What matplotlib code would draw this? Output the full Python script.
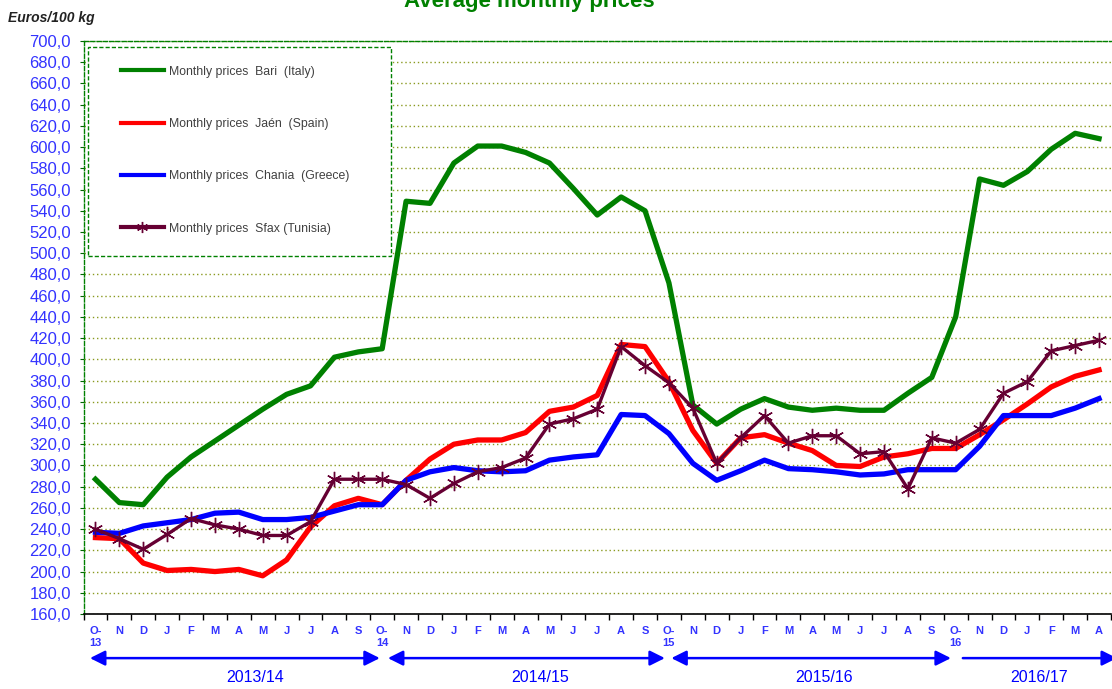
import numpy as np
import matplotlib.pyplot as plt
from matplotlib.patches import Rectangle
from matplotlib.ticker import FuncFormatter, MultipleLocator, FixedLocator

plt.rcParams['font.family'] = ['Liberation Sans', 'DejaVu Sans']

months = ['O-\n13', 'N', 'D', 'J', 'F', 'M', 'A', 'M', 'J', 'J', 'A', 'S',
          'O-\n14', 'N', 'D', 'J', 'F', 'M', 'A', 'M', 'J', 'J', 'A', 'S',
          'O-\n15', 'N', 'D', 'J', 'F', 'M', 'A', 'M', 'J', 'J', 'A', 'S',
          'O-\n16', 'N', 'D', 'J', 'F', 'M', 'A']

bari = [287, 265, 263, 289, 308, 323, 338, 353, 367, 375, 402, 407,
        410, 549, 547, 585, 601, 601, 595, 585, 561, 536, 553, 540,
        472, 357, 339, 353, 363, 355, 352, 354, 352, 352, 368, 383,
        440, 570, 564, 577, 598, 613, 608]
jaen = [232, 231, 208, 201, 202, 200, 202, 196, 211, 242, 262, 269,
        263, 286, 306, 320, 324, 324, 331, 351, 355, 366, 414, 412,
        379, 333, 302, 326, 329, 321, 314, 300, 299, 308, 311, 316,
        316, 329, 343, 358, 374, 384, 390]
chania = [237, 236, 243, 246, 249, 255, 256, 249, 249, 251, 257, 263,
          263, 286, 294, 298, 295, 294, 295, 305, 308, 310, 348, 347,
          330, 302, 286, 295, 305, 297, 296, 294, 291, 292, 296, 296,
          296, 318, 347, 347, 347, 354, 363]
sfax = [240, 231, 221, 235, 250, 244, 240, 234, 234, 247, 287, 287,
        287, 282, 269, 283, 294, 298, 307, 339, 344, 353, 412, 394,
        378, 354, 302, 326, 347, 321, 328, 328, 311, 313, 278, 326,
        321, 334, 368, 379, 408, 413, 418]

seasons = ['2013/14', '2014/15', '2015/16', '2016/17']
season_label_x = [6.7, 18.6, 30.5, 39.5]
season_arrows = [(-0.23, 11.9, '<|-|>'), (12.24, 23.83, '<|-|>'),
                 (24.1, 35.8, '<|-|>'), (36.3, 42.75, '-|>')]

x = np.arange(len(months))

fig = plt.figure(figsize=(11.12, 6.89), dpi=100)
ax = fig.add_axes([83.5 / 1112, 75 / 689, 1027.5 / 1112, 573 / 689])

ax.plot(x, bari, color='#008000', lw=3.8, label='Monthly prices  Bari  (Italy)', zorder=3)
ax.plot(x, jaen, color='#ff0000', lw=3.8, label='Monthly prices  Jaén  (Spain)', zorder=3)
ax.plot(x, chania, color='#0000ff', lw=3.8, label='Monthly prices  Chania  (Greece)', zorder=3)
ax.plot(x, sfax, color='#660033', lw=2.4, marker=(6, 2, 0), ms=11, mew=1.0,
        label='Monthly prices  Sfax (Tunisia)', zorder=4)

ax.set_xlim(-0.5, 42.5)
ax.set_ylim(160, 700)

ax.yaxis.set_major_locator(MultipleLocator(20))
ax.yaxis.set_major_formatter(FuncFormatter(lambda v, p: f'{v:.1f}'.replace('.', ',')))
ax.tick_params(axis='y', colors='#006600', length=3, labelcolor='#3333ff', labelsize=12, pad=6)
ax.grid(axis='y', color='#8a9a20', linestyle=(0, (1, 2)), lw=1.0)

ax.xaxis.set_major_locator(FixedLocator(np.arange(-0.5, 43, 1)))
ax.xaxis.set_minor_locator(FixedLocator(x))
ax.set_xticklabels([], minor=False)
ax.set_xticklabels(months, minor=True, va='top', ha='center', linespacing=1.2)
ax.tick_params(axis='x', which='major', length=4, color='black', width=1)
ax.tick_params(axis='x', which='minor', length=0, pad=9, labelsize=8,
               labelcolor='#3333ff')
for t in ax.get_xticklabels(minor=True):
    t.set_fontweight('bold')

for side in ['left', 'top']:
    ax.spines[side].set_color('#008000')
    ax.spines[side].set_linestyle((0, (3, 1.5)))
    ax.spines[side].set_linewidth(1)
ax.spines['right'].set_visible(False)
ax.spines['bottom'].set_color('black')
ax.spines['bottom'].set_linewidth(1.2)

for (a, b, style) in season_arrows:
    ax.annotate('', xy=(b, -0.077), xytext=(a, -0.077),
                xycoords=('data', 'axes fraction'), textcoords=('data', 'axes fraction'),
                arrowprops=dict(arrowstyle=style + ',head_length=0.9,head_width=0.45',
                                color='#0000ff', lw=1.8, shrinkA=0, shrinkB=0),
                annotation_clip=False)
for lab, lx in zip(seasons, season_label_x):
    ax.text(lx, -0.11, lab, transform=ax.get_xaxis_transform(), ha='center', va='center',
            fontsize=11.5, color='#0000ff', clip_on=False)

# legend box drawn separately so the inner spacing can match
ax.add_patch(Rectangle((0.0044, 0.6248), 0.295, 0.3647, transform=ax.transAxes,
                       facecolor='white', edgecolor='#008000', lw=1,
                       linestyle=(0, (3, 1.5)), zorder=5))
leg = ax.legend(loc='upper left', bbox_to_anchor=(0.0365, 0.957),
                fontsize=8.8, labelspacing=3.3, handlelength=3.5, handletextpad=0.4,
                borderpad=0, borderaxespad=0, frameon=False,
                numpoints=1, labelcolor='#404040')
leg.set_zorder(6)
for h in leg.legend_handles:
    h.set_linewidth(3.0)
    h.set_markersize(8)

fig.text(529 / 1112, 1 - 7 / 689, 'Average monthly prices', ha='center', va='baseline',
         fontsize=16, fontweight='bold', color='#008000')
fig.text(8 / 1112, 1 - 18 / 689, 'Euros/100 kg', ha='left', va='center',
         fontsize=10, fontweight='bold', fontstyle='italic', color='#222222')

fig.savefig('out.png', dpi=100)
